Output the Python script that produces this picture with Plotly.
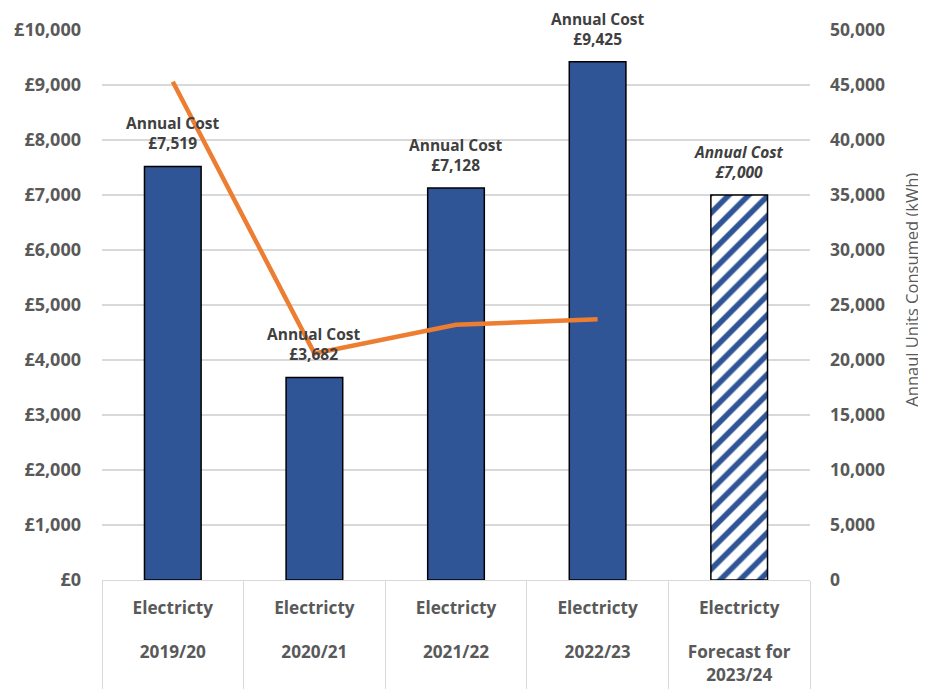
import plotly.graph_objects as go

categories = ["Electricty<br><br>2019/20", "Electricty<br><br>2020/21", "Electricty<br><br>2021/22",
              "Electricty<br><br>2022/23", "Electricty<br><br>Forecast for<br>2023/24"]
annual_cost = [7519, 3682, 7128, 9425]
cost_labels = ["Annual Cost<br>£7,519", "Annual Cost<br>£3,682", "Annual Cost<br>£7,128",
               "Annual Cost<br>£9,425"]
forecast_cost = [7000]
forecast_label = ["<i>Annual Cost<br>£7,000</i>"]
units_kwh = [45300, 20600, 23200, 23700]
right_title = "Annaul Units Consumed (kWh)"

BLUE = "#2F5597"
ORANGE = "#ED7D31"
GREY = "#595959"
GRID = "#D9D9D9"
FONT = "Open Sans"
label_font = dict(family=FONT, size=15.5, color="#404040", weight="bold")

fig = go.Figure()
fig.add_trace(go.Bar(
    x=categories[:4], y=annual_cost, width=0.4,
    marker=dict(color=BLUE, line=dict(color="black", width=1.5)),
    showlegend=False, hoverinfo="skip"))
fig.add_trace(go.Bar(
    x=categories[4:], y=forecast_cost, width=0.4,
    marker=dict(color="white", line=dict(color="black", width=1.5),
                pattern=dict(shape="/", fgcolor=BLUE, bgcolor="white", fgopacity=1,
                             size=14, solidity=0.4, fillmode="overlay")),
    showlegend=False, hoverinfo="skip"))
fig.add_trace(go.Scatter(
    x=categories[:4], y=units_kwh, yaxis="y2", mode="lines",
    line=dict(color=ORANGE, width=4.5), showlegend=False, hoverinfo="skip"))

annotations = [
    dict(x=c, y=v, xref="x", yref="y", text=t, showarrow=False, yanchor="bottom",
         yshift=10, font=label_font)
    for c, v, t in zip(categories, annual_cost + forecast_cost, cost_labels + forecast_label)
]
annotations.append(dict(x=1.1434, y=0.527, xref="paper", yref="paper", text=right_title,
                        textangle=-90, showarrow=False, xanchor="center", yanchor="middle",
                        font=dict(family=FONT, size=16.5, color=GREY)))

fig.update_layout(
    width=926, height=689, margin=dict(l=94, r=124, t=22, b=117, autoexpand=False),
    paper_bgcolor="white", plot_bgcolor="white", separators=".,", barmode="overlay",
    font=dict(family=FONT, color=GREY), annotations=annotations,
    xaxis=dict(type="category", tickson="boundaries", ticks="outside", ticklen=125,
               tickcolor=GRID, tickwidth=1.2, showline=True, linecolor=GRID, linewidth=1.2,
               showgrid=False, ticklabelstandoff=12, automargin=False,
               tickfont=dict(family=FONT, size=17.2, color=GREY, weight="bold"),
               range=[-0.5, 4.5]),
    yaxis=dict(range=[0, 10000], dtick=1000, tickprefix="£", tickformat=",d",
               showgrid=True, gridcolor=GRID, gridwidth=1.5, zeroline=False, ticks="",
               ticklabelstandoff=20, automargin=False,
               tickfont=dict(family=FONT, size=18, color=GREY, weight="bold")),
    yaxis2=dict(range=[0, 50000], dtick=5000, tickformat=",d", overlaying="y", side="right",
                showgrid=False, zeroline=False, ticks="", ticklabelstandoff=19, automargin=False,
                tickfont=dict(family=FONT, size=17.5, color=GREY, weight="bold")),
)
fig.write_html("out.html")
